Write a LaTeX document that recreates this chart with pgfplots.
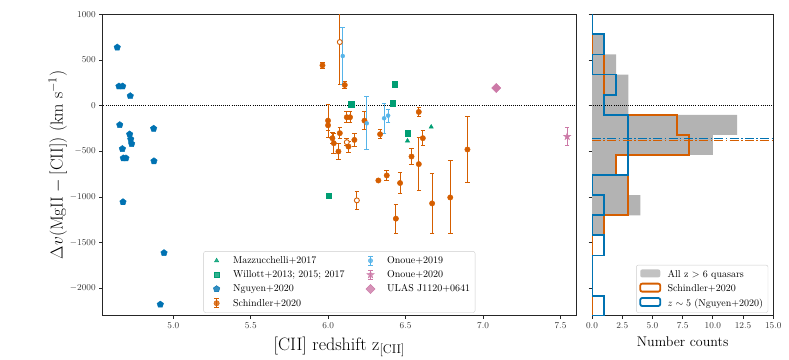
\RequirePackage{fix-cm}
\documentclass[border=0pt]{standalone}
\usepackage{pgfplots}
\pgfplotsset{compat=1.18}
\usetikzlibrary{plotmarks}
\definecolor{cBlue}{HTML}{0072B2}
\definecolor{cGreen}{HTML}{009E73}
\definecolor{cOrange}{HTML}{D55E00}
\definecolor{cLight}{HTML}{56B4E9}
\definecolor{cPink}{HTML}{CC79A7}
\definecolor{hGray}{HTML}{B3B3B3}
\pgfdeclareplotmark{fstar}{%
  \pgfpathmoveto{\pgfpointpolar{90}{\pgfplotmarksize}}%
  \pgfpathlineto{\pgfpointpolar{126}{0.382\pgfplotmarksize}}%
  \pgfpathlineto{\pgfpointpolar{162}{\pgfplotmarksize}}%
  \pgfpathlineto{\pgfpointpolar{198}{0.382\pgfplotmarksize}}%
  \pgfpathlineto{\pgfpointpolar{234}{\pgfplotmarksize}}%
  \pgfpathlineto{\pgfpointpolar{270}{0.382\pgfplotmarksize}}%
  \pgfpathlineto{\pgfpointpolar{306}{\pgfplotmarksize}}%
  \pgfpathlineto{\pgfpointpolar{342}{0.382\pgfplotmarksize}}%
  \pgfpathlineto{\pgfpointpolar{18}{\pgfplotmarksize}}%
  \pgfpathlineto{\pgfpointpolar{54}{0.382\pgfplotmarksize}}%
  \pgfpathclose\pgfusepathqfillstroke}
\pgfplotsset{
  mleg/.style={legend image code/.code={\path[draw=none,fill=none] (0pt,0pt) (20pt,0pt);\draw[##1] plot coordinates {(10pt,0pt)};}},
  eleg/.style={legend image code/.code={%
    \path[draw=none,fill=none] (0pt,0pt) (20pt,0pt);
    \draw[##1,mark=none,line width=1pt] (10pt,-4.6pt) -- (10pt,4.6pt) (7.6pt,-4.6pt) -- (12.4pt,-4.6pt) (7.6pt,4.6pt) -- (12.4pt,4.6pt);
    \draw[##1] plot coordinates {(10pt,0pt)};}},
  pleg/.style={legend image code/.code={\draw[##1] (0pt,-3pt) rectangle (20pt,5pt);}},
  fleg/.style={legend image code/.code={\path[##1,draw=none] (0pt,-3pt) rectangle (20pt,5pt);}},
  mylegend/.style={font=\fontsize{10}{12}\selectfont, draw=black!20, rounded corners=2pt,
    fill=white, fill opacity=0.8, text opacity=1, draw opacity=1,
    inner xsep=3pt, inner ysep=3pt, /tikz/row sep=1.6pt,
    /tikz/every odd column/.append style={column sep=4.5pt},
    /tikz/every even column/.append style={column sep=14pt}},
  myaxis/.style={
    scale only axis, height=301pt,
    ymin=-2295, ymax=1000,
    axis line style={black!85, line width=0.9pt},
    tick style={black!85, line width=0.8pt},
    tick align=outside, major tick length=3.5pt,
    xtick pos=bottom, ytick pos=left,
    ytick={-2000,-1500,-1000,-500,0,500,1000},
    scaled ticks=false,
    tick label style={font=\fontsize{9}{10}\selectfont, text=black!80},
    xticklabel style={/pgf/number format/.cd, fixed, fixed zerofill, precision=1},
    yticklabel style={/pgf/number format/.cd, fixed, 1000 sep={}},
    legend cell align=left,
  },
  ebar/.style={/pgfplots/error bars/y dir=both, /pgfplots/error bars/y explicit,
    /pgfplots/error bars/error bar style={line width=1pt, color=#1},
    /pgfplots/error bars/error mark options={rotate=90, mark size=2.3pt, line width=1pt, color=#1}},
}
\begin{document}
\begin{tikzpicture}[x=1pt,y=1pt]
\useasboundingbox (0,0) rectangle (789,359);
\begin{axis}[myaxis,
  at={(102.7pt,43.7pt)}, anchor=south west, width=473.3pt,
  xmin=4.544, xmax=7.60,
  xtick={5,5.5,6,6.5,7,7.5},
  xlabel={[CII] redshift z$_{\mathrm{[CII]}}$},
  xlabel style={font=\fontsize{18}{21}\selectfont, at={(axis description cs:0.5,0)}, anchor=base, yshift=-35.3pt},
  ylabel={$\Delta v(\mathrm{MgII}-\mathrm{[CII]})$ (km s$^{-1}$)},
  ylabel style={font=\fontsize{17.3}{20}\selectfont, at={(axis description cs:-0.0847,0.5)}, anchor=base},
  legend style={mylegend, at={(0.5,0.0086)}, anchor=south, legend columns=2},
]
\addplot[black, line width=0.8pt, dash pattern=on 0.8pt off 1.3pt, forget plot] coordinates {(4.4,0) (7.8,0)};
% Nguyen+2020
\addplot[only marks, mark=pentagon*, mark size=3.4pt, color=cBlue, forget plot] coordinates {
(4.638,638) (4.649,212) (4.673,212) (4.722,106) (4.654,-211) (4.873,-251)
(4.718,-313) (4.725,-367) (4.731,-418) (4.671,-473) (4.677,-575) (4.694,-575)
(4.875,-607) (4.675,-1055) (4.940,-1612) (4.916,-2176)};
% Willott
\addplot[only marks, mark=square*, mark size=2.6pt, color=cGreen, forget plot] coordinates {
(6.148,15) (6.430,234) (6.415,26) (6.512,-301) (6.004,-985)};
% Mazzucchelli
\addplot[only marks, mark=triangle*, mark size=2.5pt, color=cGreen, forget plot] coordinates {
(6.512,-385) (6.665,-233)};
% Schindler filled
\addplot[only marks, mark=*, mark size=2.7pt, color=cOrange, forget plot, ebar=cOrange] coordinates {
(5.963,441) +- (0,30)
(6.107,226) +- (0,40)
(5.999,-164) +- (0,180)
(5.999,-215) +- (0,60)
(6.027,-356) +- (0,60)
(6.036,-411) +- (0,110)
(6.066,-502) +- (0,90)
(6.075,-301) +- (0,60)
(6.131,-448) +- (0,60)
(6.120,-127) +- (0,60)
(6.141,-127) +- (0,60)
(6.169,-375) +- (0,70)
(6.234,-164) +- (0,100)
(6.335,-313) +- (0,50)
(6.585,-69) +- (0,50)
(6.611,-356) +- (0,80)
(6.538,-557) +- (0,90)
(6.585,-640) +- (0,290)
(6.899,-480) +- (0,360)
(6.378,-764) +- (0,50)
(6.324,-819) +- (0,0)
(6.464,-847) +- (0,110)
(6.437,-1237) +- (0,160)
(6.671,-1070) +- (0,330)
(6.788,-1005) +- (0,400)};
% Schindler open
\addplot[only marks, mark=*, mark size=2.5pt, color=cOrange, mark options={fill=white, line width=0.9pt}, forget plot, ebar=cOrange] coordinates {
(6.075,696) +- (0,460)
(6.120,-400) +- (0,40)
(6.185,-1037) +- (0,100)};
% Onoue 2019
\addplot[only marks, mark=*, mark size=2pt, color=cLight, forget plot, ebar=cLight] coordinates {
(6.094,543) +- (0,310)
(6.249,-193) +- (0,290)
(6.361,-138) +- (0,165)
(6.387,-109) +- (0,70)};
% Onoue 2020
\addplot[only marks, mark=fstar, mark size=3.8pt, color=cPink, forget plot, ebar=cPink] coordinates {
(7.543,-338) +- (0,95)};
% ULAS J1120+0641
\addplot[only marks, mark=square*, mark size=3.2pt, mark options={rotate=45}, color=cPink, forget plot] coordinates {
(7.085,193)};
% legend (row-major to mimic column-major order)
\addlegendimage{mleg, only marks, mark=triangle*, mark size=2.5pt, color=cGreen}
\addlegendentry{Mazzucchelli+2017}
\addlegendimage{eleg, only marks, mark=*, mark size=2.2pt, color=cLight}
\addlegendentry{Onoue+2019}
\addlegendimage{mleg, only marks, mark=square*, mark size=2.6pt, color=cGreen}
\addlegendentry{Willott+2013; 2015; 2017}
\addlegendimage{eleg, only marks, mark=fstar, mark size=3.8pt, color=cPink}
\addlegendentry{Onoue+2020}
\addlegendimage{mleg, only marks, mark=pentagon*, mark size=3.4pt, color=cBlue}
\addlegendentry{Nguyen+2020}
\addlegendimage{mleg, only marks, mark=square*, mark size=3.2pt, mark options={rotate=45}, color=cPink}
\addlegendentry{ULAS J1120+0641}
\addlegendimage{eleg, only marks, mark=*, mark size=2.7pt, color=cOrange}
\addlegendentry{Schindler+2020}
\end{axis}

\begin{axis}[myaxis,
  at={(592pt,43.7pt)}, anchor=south west, width=181.3pt,
  xmin=0, xmax=15,
  xtick={0,2.5,5,7.5,10,12.5,15},
  yticklabels={},
  xlabel={Number counts},
  xlabel style={font=\fontsize{14}{17}\selectfont, at={(axis description cs:0.5,0)}, anchor=base, yshift=-31.4pt},
  legend style={mylegend, at={(0.972,0.0086)}, anchor=south east},
]
% All z>6 quasars
\addplot[fill=hGray, draw=none, forget plot] coordinates {
(0,-2300) (0,-1420) (1,-1420) (1,-1200) (4,-1200) (4,-980) (3,-980) (3,-760)
(2,-760) (2,-540) (10,-540) (10,-320) (12,-320) (12,-100) (3,-100) (3,340)
(2,340) (2,560) (1,560) (1,780) (0,780) (0,1000)} -- cycle;
\addplot[black, line width=0.8pt, dash pattern=on 0.8pt off 1.3pt, forget plot] coordinates {(-1,0) (16,0)};
% Schindler+2020
\addplot[cOrange, line width=1.8pt, forget plot] coordinates {
(0,-2300) (0,-1420) (1,-1420) (1,-1200) (3,-1200) (3,-760) (2,-760) (2,-540)
(8,-540) (8,-320) (7,-320) (7,-100) (1,-100) (1,560) (0,560) (0,1000)};
% Nguyen+2020
\addplot[cBlue, line width=1.8pt, forget plot] coordinates {
(0,-2300) (1,-2300) (1,-2080) (0,-2080) (0,-1640) (1,-1640) (1,-1420) (0,-1420)
(0,-1200) (1,-1200) (1,-980) (0,-980) (0,-760) (3,-760) (3,-100) (1,-100)
(1,120) (2,120) (2,340) (0,340) (0,560) (1,560) (1,780) (0,780) (0,1000)};
% median lines
\addplot[cOrange, line width=1.5pt, dash pattern=on 9pt off 2.4pt on 1.5pt off 2.4pt, forget plot] coordinates {(0,-383) (15,-383)};
\addplot[cBlue, line width=1.5pt, dash pattern=on 9pt off 2.4pt on 1.5pt off 2.4pt, forget plot] coordinates {(0,-360) (15,-360)};
\addlegendimage{fleg, fill=hGray}
\addlegendentry{All z $>$ 6 quasars}
\addlegendimage{pleg, draw=cOrange, line width=1.8pt}
\addlegendentry{Schindler+2020}
\addlegendimage{pleg, draw=cBlue, line width=1.8pt}
\addlegendentry{$z\sim5$ (Nguyen+2020)}
\end{axis}
\end{tikzpicture}
\end{document}
